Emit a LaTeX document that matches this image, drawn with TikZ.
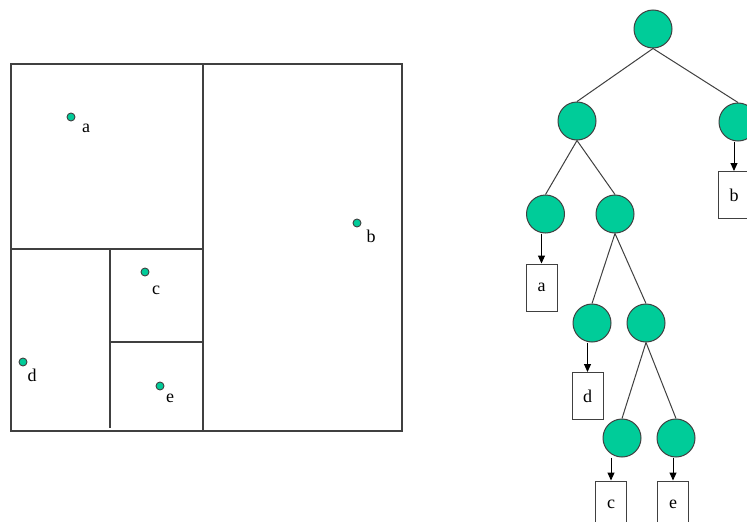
\documentclass[tikz,border=0pt]{standalone}
\usepackage{fontspec}
\setmainfont{Liberation Serif}
\usetikzlibrary{arrows.meta}
\definecolor{nodegreen}{RGB}{0,204,153}
\definecolor{edgegray}{RGB}{64,64,64}
\tikzset{
  treenode/.style={circle, draw=edgegray, fill=nodegreen, line width=1pt, minimum size=38pt, inner sep=0pt},
  leafbox/.style={rectangle, draw=edgegray, fill=white, line width=1pt, minimum width=31pt, minimum height=47pt, inner sep=0pt, font=\fontsize{18}{20}\selectfont},
  pt/.style={circle, draw=edgegray, fill=nodegreen, line width=0.9pt, minimum size=8pt, inner sep=0pt},
  ptlabel/.style={inner sep=0pt, font=\fontsize{18}{20}\selectfont},
  edge/.style={draw=edgegray, line width=1pt},
  arr/.style={draw=black, line width=1pt, -{Triangle[length=8pt,width=7pt]}},
  region/.style={draw=edgegray, line width=1.2pt}
}
\begin{document}
\begin{tikzpicture}[x=1pt,y=-1pt]
\clip (0,0) rectangle (747,522);
\fill[white] (0,0) rectangle (747,522);

% partition of the plane
\draw[region] (11,64) rectangle (402,431);
\draw[region] (203,64) -- (203,431);
\draw[region] (11,249) -- (203,249);
\draw[region] (110,249) -- (110,428);
\draw[region] (110,342) -- (203,342);

% data points
\node[pt] (pa) at (71,117) {};
\node[ptlabel] (la1) at (86,128) {a};
\node[pt] (pb) at (357,223) {};
\node[ptlabel] (lb1) at (371,236) {b};
\node[pt] (pc) at (145,272) {};
\node[ptlabel] (lc1) at (156,290) {c};
\node[pt] (pd) at (23,362) {};
\node[ptlabel] (ld1) at (32,375) {d};
\node[pt] (pe) at (160,386) {};
\node[ptlabel] (le1) at (170,398) {e};

% tree nodes
\node[treenode] (root) at (653,29) {};
\node[treenode] (l) at (577,121) {};
\node[treenode] (r) at (738,122) {};
\node[treenode] (ll) at (545.5,214) {};
\node[treenode] (lr) at (615,214) {};
\node[treenode] (lrl) at (592,323) {};
\node[treenode] (lrr) at (646,323) {};
\node[treenode] (lrrl) at (622,438) {};
\node[treenode] (lrrr) at (676,438) {};

% leaf buckets
\node[leafbox] (ba) at (541.5,287.5) {a};
\node[leafbox] (bb) at (734,195) {b};
\node[leafbox] (bd) at (587.5,396) {d};
\node[leafbox] (bc) at (611,504.5) {c};
\node[leafbox] (be) at (673,504.5) {e};

% tree edges
\draw[edge] (root.south) -- (l.north);
\draw[edge] (root.south) -- (r.north);
\draw[edge] (l.south) -- (ll.north);
\draw[edge] (l.south) -- (lr.north);
\draw[edge] (lr.south) -- (lrl.north);
\draw[edge] (lr.south) -- (lrr.north);
\draw[edge] (lrr.south) -- (lrrl.north);
\draw[edge] (lrr.south) -- (lrrr.north);

% pointers to buckets
\draw[arr] (ll.south -| ba.north) -- (ba.north);
\draw[arr] (r.south -| bb.north) -- (bb.north);
\draw[arr] (lrl.south -| bd.north) -- (bd.north);
\draw[arr] (lrrl.south -| bc.north) -- (bc.north);
\draw[arr] (lrrr.south -| be.north) -- (be.north);
\end{tikzpicture}
\end{document}
